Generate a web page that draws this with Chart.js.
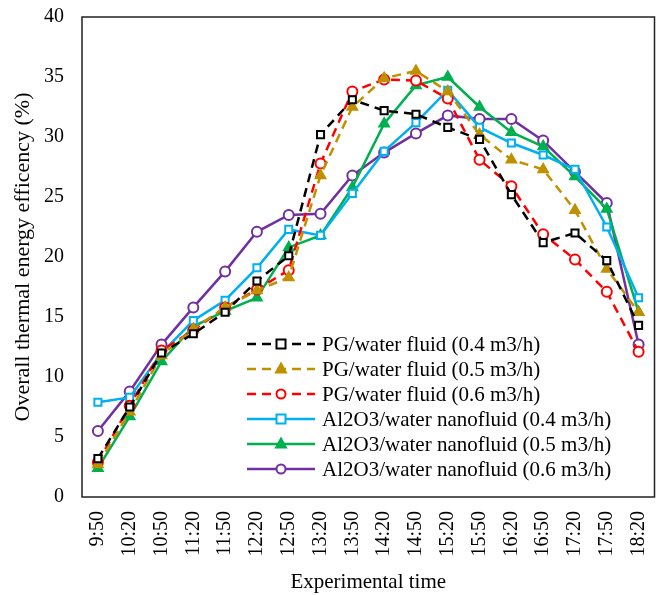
<!DOCTYPE html>
<html>
<head>
<meta charset="utf-8">
<script src="https://cdn.jsdelivr.net/npm/chart.js@4.4.0/dist/chart.umd.min.js"></script>
<style>
  html, body { margin: 0; padding: 0; background: #fff; }
  #wrap { width: 662px; height: 595px; }
</style>
</head>
<body>
<div id="wrap"><canvas id="chart" width="662" height="595"></canvas></div>
<script>
// experimental time labels
const times = ['9:50','10:20','10:50','11:20','11:50','12:20','12:50','13:20','13:50',
               '14:20','14:50','15:20','15:50','16:20','16:50','17:20','17:50','18:20'];
const yTicks = [0, 5, 10, 15, 20, 25, 30, 35, 40];

// efficiency values (%)
const pg04 = [3.2, 7.5, 12.0, 13.6, 15.4, 18.0, 20.1, 30.2, 33.1, 32.2, 31.9, 30.8, 29.8, 25.2, 21.2, 22.0, 19.7, 14.3];
const pg05 = [2.7, 7.1, 11.8, 14.0, 15.8, 17.2, 18.3, 26.8, 32.5, 34.9, 35.5, 33.8, 30.2, 28.1, 27.3, 23.9, 19.0, 15.4];
const pg06 = [2.9, 7.6, 12.2, 13.9, 15.8, 17.3, 18.9, 27.8, 33.8, 34.8, 34.7, 33.2, 28.1, 25.9, 21.9, 19.8, 17.1, 12.1];
const al04 = [7.9, 8.3, 12.0, 14.7, 16.4, 19.1, 22.3, 21.8, 25.3, 28.8, 31.2, 33.9, 30.8, 29.5, 28.5, 27.3, 22.5, 16.6];
const al05 = [2.4, 6.7, 11.3, 14.2, 15.5, 16.6, 20.8, 21.8, 25.8, 31.1, 34.3, 35.0, 32.5, 30.4, 29.2, 26.7, 24.0, 15.4];
const al06 = [5.5, 8.8, 12.7, 15.8, 18.8, 22.1, 23.5, 23.6, 26.8, 28.7, 30.3, 31.8, 31.5, 31.5, 29.7, 27.1, 24.5, 12.7];

const seriesNames = [
  'PG/water fluid (0.4 m3/h)',
  'PG/water fluid (0.5 m3/h)',
  'PG/water fluid (0.6 m3/h)',
  'Al2O3/water nanofluid (0.4 m3/h)',
  'Al2O3/water nanofluid (0.5 m3/h)',
  'Al2O3/water nanofluid (0.6 m3/h)'
];
const seriesData = [pg04, pg05, pg06, al04, al05, al06];
const colors = ['#000000', '#BF9000', '#FF0000', '#00B0F0', '#00B050', '#7030A0'];
const markers = ['rect', 'triangle', 'circle', 'rect', 'triangle', 'circle'];
const dashed = [true, true, true, false, false, false];

const FONT = "'Liberation Serif', 'Times New Roman', serif";

const datasets = seriesData.map((d, i) => ({
  label: seriesNames[i],
  data: d,
  borderColor: colors[i],
  borderWidth: 2.5,
  borderDash: dashed[i] ? [9, 6] : [],
  pointStyle: markers[i],
  pointRadius: markers[i] === 'triangle' ? 5.5 : 5,
  pointBorderWidth: 2,
  pointBorderColor: colors[i],
  pointBackgroundColor: markers[i] === 'triangle' ? colors[i] : '#ffffff',
  tension: 0,
  fill: false
}));

function drawMarker(ctx, style, x, y, r) {
  if (style === 'rect') {
    ctx.rect(x - r, y - r, r * 2, r * 2);
  } else if (style === 'triangle') {
    ctx.moveTo(x, y - r * 1.2);
    ctx.lineTo(x + r * 1.1, y + r * 0.8);
    ctx.lineTo(x - r * 1.1, y + r * 0.8);
    ctx.closePath();
  } else {
    ctx.arc(x, y, r, 0, Math.PI * 2);
  }
}

// frame round the plot area + legend inside it
const framePlugin = {
  id: 'frame',
  afterDraw(chart) {
    const ctx = chart.ctx;
    const a = chart.chartArea;
    ctx.save();
    ctx.strokeStyle = '#222';
    ctx.lineWidth = 1.5;
    ctx.strokeRect(a.left, a.top, a.right - a.left, a.bottom - a.top);

    // legend
    const x0 = 247, x1 = 315, tx = 322, y0 = 344, step = 25;
    ctx.font = '21px ' + FONT;
    ctx.textBaseline = 'middle';
    ctx.textAlign = 'left';
    chart.data.datasets.forEach((ds, i) => {
      const y = y0 + i * step;
      ctx.strokeStyle = ds.borderColor;
      ctx.lineWidth = 2.5;
      ctx.setLineDash(ds.borderDash);
      ctx.beginPath();
      ctx.moveTo(x0, y);
      ctx.lineTo(x1, y);
      ctx.stroke();
      ctx.setLineDash([]);
      ctx.fillStyle = ds.pointBackgroundColor;
      ctx.strokeStyle = ds.borderColor;
      ctx.lineWidth = 2;
      ctx.beginPath();
      drawMarker(ctx, ds.pointStyle, (x0 + x1) / 2, y, 4.5);
      ctx.fill();
      ctx.stroke();
      ctx.fillStyle = '#000';
      ctx.fillText(ds.label, tx, y + 1);
    });
    ctx.restore();
  }
};

function noPad(scale) {
  scale.paddingLeft = 0;
  scale.paddingRight = 0;
  scale.paddingTop = 0;
  scale.paddingBottom = 0;
}

new Chart(document.getElementById('chart'), {
  type: 'line',
  data: { labels: times, datasets: datasets },
  options: {
    responsive: false,
    animation: false,
    layout: { padding: { top: 17, right: 6, left: 0, bottom: 0 } },
    plugins: {
      legend: { display: false },
      tooltip: { enabled: false }
    },
    scales: {
      x: {
        offset: true,
        grid: { display: false, drawTicks: false },
        border: { display: false },
        ticks: {
          minRotation: 90, maxRotation: 90, autoSkip: false,
          padding: 14, color: '#000',
          font: { family: FONT, size: 20 }
        },
        title: {
          display: true, text: 'Experimental time', color: '#000',
          font: { family: FONT, size: 21 }, padding: { top: 0, bottom: 0 }
        },
        afterFit(scale) { scale.height = 98; noPad(scale); }
      },
      y: {
        min: 0, max: 40,
        afterBuildTicks(scale) { scale.ticks = yTicks.map(v => ({ value: v })); },
        grid: { display: false, drawTicks: false },
        border: { display: false },
        ticks: {
          padding: 18, color: '#000',
          font: { family: FONT, size: 20 }
        },
        title: {
          display: true, text: 'Overall thermal energy efficency (%)', color: '#000',
          font: { family: FONT, size: 22 }, padding: { top: 10, bottom: 0 }
        },
        afterFit(scale) { scale.width = 82; noPad(scale); }
      }
    }
  },
  plugins: [framePlugin]
});
</script>
</body>
</html>
